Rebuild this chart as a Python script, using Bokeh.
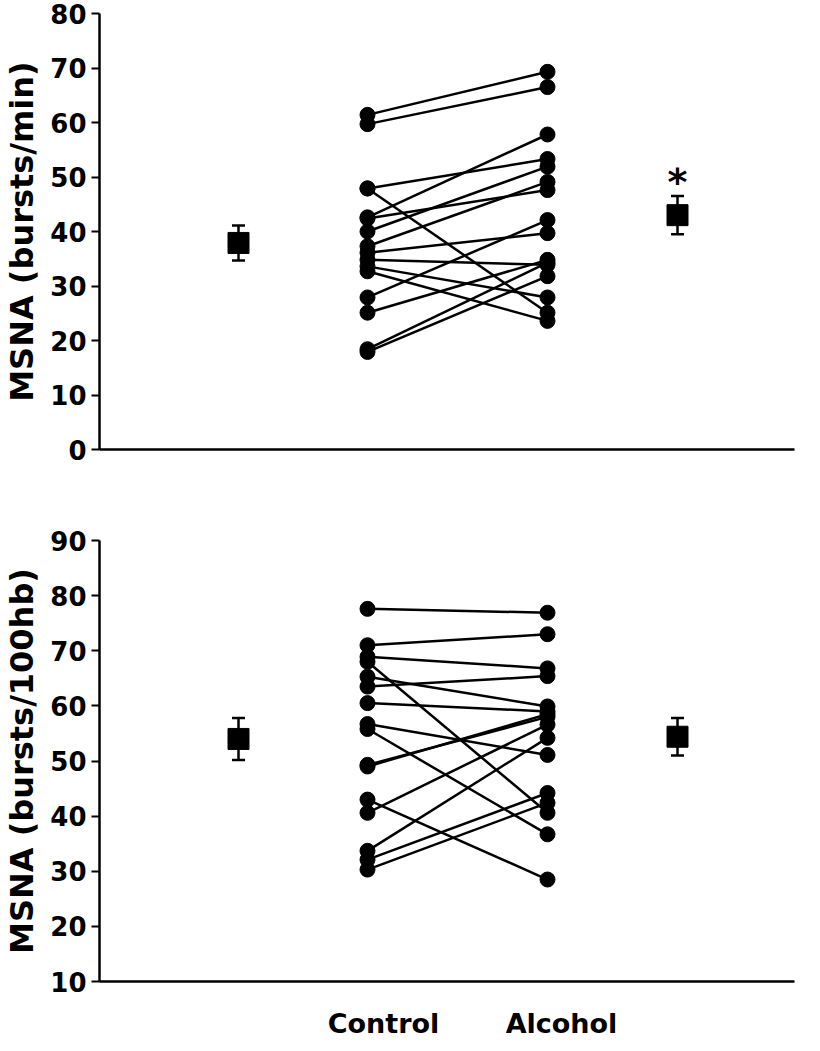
from bokeh.plotting import figure
from bokeh.layouts import column
from bokeh.models import Range1d, FixedTicker, ColumnDataSource, Whisker, TeeHead
from bokeh.core.properties import value
from bokeh.embed import file_html
from bokeh.resources import INLINE

# ---------------- data ----------------
groups = ["Control", "Alcohol"]

top_control = [61.4, 59.7, 47.9, 47.9, 42.6, 42.4, 40.0, 37.3, 36.1, 34.8, 33.6, 32.7, 27.9, 25.1, 18.4, 17.9]
top_alcohol = [69.3, 66.5, 53.3, 25.1, 57.8, 47.6, 51.9, 49.1, 39.7, 33.9, 27.9, 23.6, 42.1, 34.8, 34.3, 31.8]
top_means = [37.9, 43.0]
top_sems = [3.2, 3.5]
top_ticks = [0, 10, 20, 30, 40, 50, 60, 70, 80]
top_ylabel = "MSNA (bursts/min)"

bot_control = [77.6, 71.0, 68.9, 68.0, 65.3, 63.5, 60.5, 56.7, 55.8, 49.3, 49.0, 43.0, 40.6, 33.7, 32.1, 30.3]
bot_alcohol = [76.9, 73.0, 66.8, 40.6, 59.9, 65.4, 59.0, 51.1, 36.7, 58.0, 58.5, 28.5, 56.6, 54.2, 44.2, 42.4]
bot_means = [54.0, 54.4]
bot_sems = [3.8, 3.4]
bot_ticks = [10, 20, 30, 40, 50, 60, 70, 80, 90]
bot_ylabel = "MSNA (bursts/100hb)"

# ---------------- layout constants ----------------
X_MEAN = [1.39, 5.78]     # group mean markers
X_PAIR = [2.68, 4.48]     # individual paired points
X_LABEL = [2.84, 4.62]    # category label positions
X_END = 6.95
FONT = "DejaVu Sans"


def make_panel(ctrl, alc, means, sems, y0, y1, ticks, ylabel, show_x,
               frame_h, border_top, border_bottom, star=False):
    p = figure(frame_width=695, frame_height=frame_h,
               x_range=Range1d(0, X_END), y_range=Range1d(y0, y1),
               output_backend="svg", toolbar_location=None,
               min_border_left=97, min_border_right=8,
               min_border_top=border_top, min_border_bottom=border_bottom)
    p.outline_line_color = None
    p.grid.visible = False
    p.background_fill_color = "white"

    # y axis
    ya = p.yaxis[0]
    ya.ticker = FixedTicker(ticks=ticks)
    ya.axis_line_width = 2.5
    ya.axis_line_color = "black"
    ya.major_tick_line_width = 2
    ya.major_tick_out = 8
    ya.major_tick_in = 0
    ya.minor_tick_line_color = None
    ya.major_label_text_font = FONT
    ya.major_label_text_font_style = "bold"
    ya.major_label_text_font_size = "26px"
    ya.major_label_text_color = "black"
    ya.major_label_standoff = 5
    ya.axis_label = ylabel
    ya.axis_label_text_font = FONT
    ya.axis_label_text_font_style = "bold"
    ya.axis_label_text_font_size = "32px"
    ya.axis_label_text_color = "black"
    ya.axis_label_standoff = 6

    # x axis
    xa = p.xaxis[0]
    xa.axis_line_width = 2.5
    xa.axis_line_color = "black"
    xa.major_tick_out = 0
    xa.major_tick_in = 0
    xa.minor_tick_line_color = None
    xa.major_label_text_font = FONT
    xa.major_label_text_font_style = "bold"
    xa.major_label_text_font_size = "27px"
    xa.major_label_text_color = "black"
    if show_x:
        xa.ticker = FixedTicker(ticks=X_LABEL)
        xa.major_label_overrides = {X_LABEL[i]: groups[i] for i in range(2)}
        xa.major_label_standoff = 26
    else:
        xa.ticker = FixedTicker(ticks=[])

    # paired lines
    xs = [[X_PAIR[0], X_PAIR[1]] for _ in ctrl]
    ys = [[c, a] for c, a in zip(ctrl, alc)]
    p.multi_line(xs=xs, ys=ys, line_color="black", line_width=2.5)
    p.scatter(x=[X_PAIR[0]] * len(ctrl), y=ctrl, size=15, marker="circle",
              fill_color="black", line_color="black")
    p.scatter(x=[X_PAIR[1]] * len(alc), y=alc, size=15, marker="circle",
              fill_color="black", line_color="black")

    # group means with error bars
    src = ColumnDataSource(data=dict(
        base=X_MEAN,
        mean=means,
        upper=[m + s for m, s in zip(means, sems)],
        lower=[m - s for m, s in zip(means, sems)],
    ))
    w = Whisker(base="base", upper="upper", lower="lower", source=src,
                line_width=2.5, line_color="black",
                upper_head=TeeHead(size=13, line_width=2.5, line_color="black"),
                lower_head=TeeHead(size=13, line_width=2.5, line_color="black"))
    p.add_layout(w)
    p.scatter(x="base", y="mean", source=src, marker="square", size=21,
              fill_color="black", line_color="black")

    if star:
        p.text(x=[X_MEAN[1]], y=[means[1] + sems[1] + 2.6], text=["*"],
               text_font=value(FONT), text_font_style="bold",
               text_font_size="38px", text_align="center",
               text_baseline="alphabetic", text_color="black")
    return p


top = make_panel(top_control, top_alcohol, top_means, top_sems, 0, 80,
                 top_ticks, top_ylabel, False, 436, 13, 40, star=True)
bot = make_panel(bot_control, bot_alcohol, bot_means, bot_sems, 10, 90,
                 bot_ticks, bot_ylabel, True, 441, 51, 55)

layout = column(top, bot, spacing=0)
open("out.html", "w").write(file_html(layout, INLINE))
